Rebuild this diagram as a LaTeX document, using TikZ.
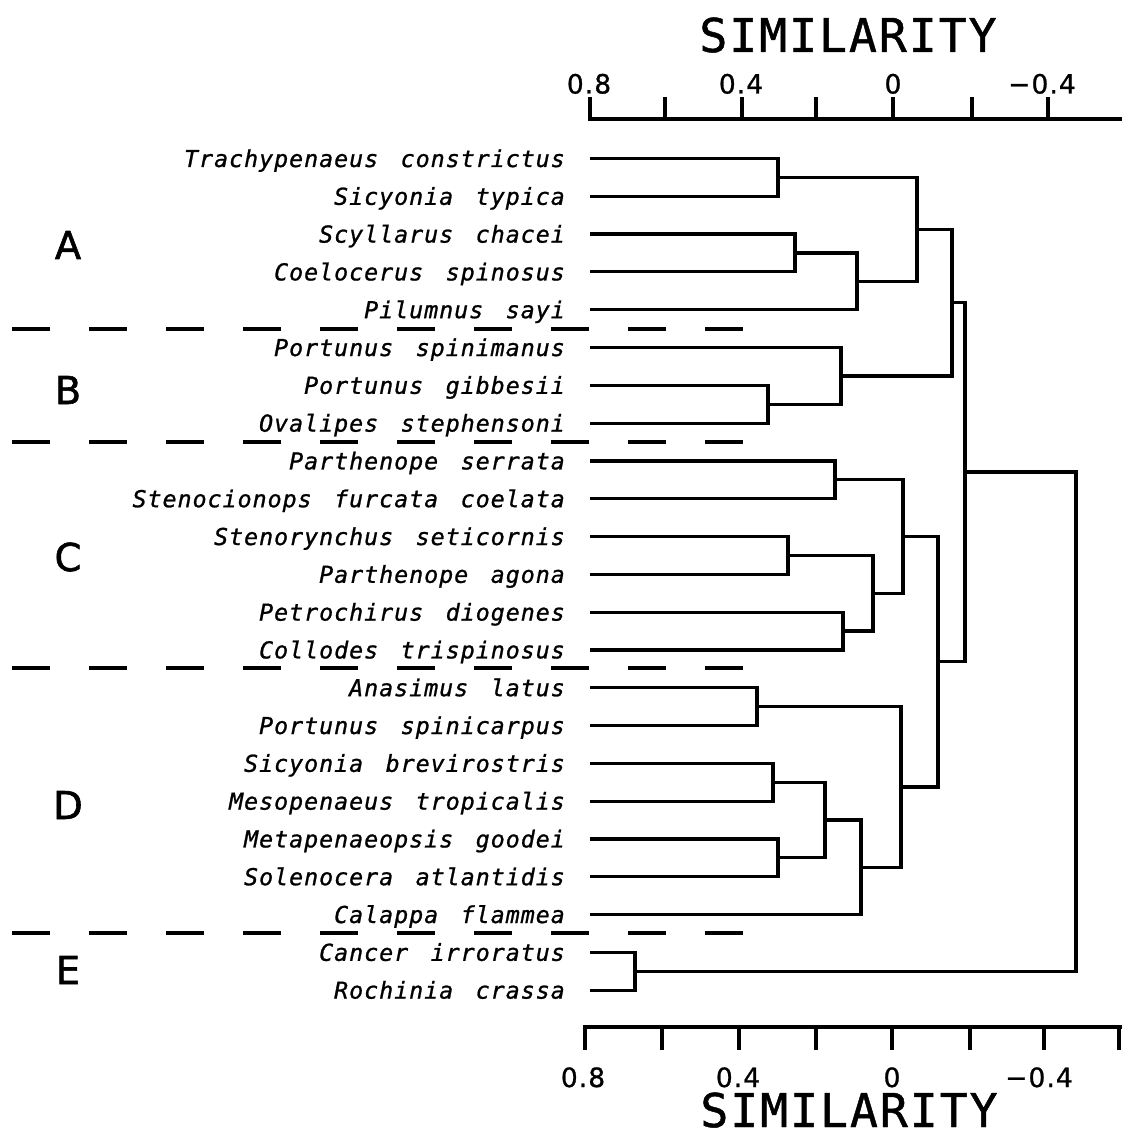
\documentclass[tikz,border=0pt]{standalone}
\usepackage{fontspec}
\setmainfont{DejaVu Sans}
\newfontfamily\taxonfont[LetterSpace=4.2,WordSpace=1.5,FakeBold=1]{DejaVu Sans Mono}
\newfontfamily\simfont[LetterSpace=4,FakeBold=1]{DejaVu Sans Mono}
\newfontfamily\numfont[LetterSpace=4,FakeBold=1]{DejaVu Sans}
\newfontfamily\groupfont[FakeBold=1.5]{DejaVu Sans}

\tikzset{
	branch/.style={line width=3.2pt},
	divider/.style={line width=3.2pt,dash pattern=on 38pt off 39pt},
	taxon/.style={left=25pt,inner sep=0pt,text height=17pt,text depth=0pt,font=\taxonfont\itshape\fontsize{23.3}{24}\selectfont},
	grouplab/.style={inner sep=0pt,text height=28pt,text depth=0pt,font=\groupfont\fontsize{38.4}{40}\selectfont},
	numlab/.style={inner sep=0pt,text height=19pt,text depth=0pt,font=\numfont\fontsize{26.5}{28}\selectfont},
	simlab/.style={inner sep=0pt,text height=34pt,text depth=0pt,font=\simfont\fontsize{46.6}{48}\selectfont},
}

\begin{document}
\begin{tikzpicture}[x=1pt,y=-1pt]
	\useasboundingbox (0,0) rectangle (1122,1139);
	% top axis
	\draw[branch] (590,97) -- (590,119) -- (1122,119);
	\draw[branch] (665,97) -- (665,119) (742,97) -- (742,119) (816,97) -- (816,119)
		(893,97) -- (893,119) (972,97) -- (972,119) (1048,97) -- (1048,119);
	\node[numlab] (ta) at (589,84) {0.8};
	\node[numlab] (tb) at (741,84) {0.4};
	\node[numlab] (tc) at (893,84) {0};
	\node[numlab] (td) at (1042,84) {−0.4};
	\node[simlab] (stop) at (848,35) {SIMILARITY};
	% bottom axis
	\draw[branch] (585,1050) -- (585,1027) -- (1122,1027);
	\draw[branch] (662,1050) -- (662,1027) (739,1050) -- (739,1027) (816,1050) -- (816,1027)
		(892,1050) -- (892,1027) (970,1050) -- (970,1027) (1044,1050) -- (1044,1027) (1119,1050) -- (1119,1027);
	\node[numlab] (ba) at (583,1077.5) {0.8};
	\node[numlab] (bb) at (738,1077.5) {0.4};
	\node[numlab] (bc) at (892,1077.5) {0};
	\node[numlab] (bd) at (1039,1077.5) {−0.4};
	\node[simlab] (sbot) at (849,1110) {SIMILARITY};

	% group dividers
	\draw[divider] (12,329) -- (743,329);
	\draw[divider] (12,442) -- (743,442);
	\draw[divider] (12,668) -- (743,668);
	\draw[divider] (12,933) -- (743,933);
	\node[grouplab] (ga) at (68,245) {A};
	\node[grouplab] (gb) at (68,390) {B};
	\node[grouplab] (gc) at (68,557) {C};
	\node[grouplab] (gd) at (68,805) {D};
	\node[grouplab] (ge) at (68,970) {E};

	% leaves
	\coordinate (s1) at (590,158.5);
	\coordinate (s2) at (590,196.3);
	\coordinate (s3) at (590,234.1);
	\coordinate (s4) at (590,271.9);
	\coordinate (s5) at (590,309.7);
	\coordinate (s6) at (590,347.5);
	\coordinate (s7) at (590,385.3);
	\coordinate (s8) at (590,423.1);
	\coordinate (s9) at (590,460.9);
	\coordinate (s10) at (590,498.7);
	\coordinate (s11) at (590,536.5);
	\coordinate (s12) at (590,574.3);
	\coordinate (s13) at (590,612.1);
	\coordinate (s14) at (590,649.9);
	\coordinate (s15) at (590,687.7);
	\coordinate (s16) at (590,725.5);
	\coordinate (s17) at (590,763.3);
	\coordinate (s18) at (590,801.1);
	\coordinate (s19) at (590,838.9);
	\coordinate (s20) at (590,876.7);
	\coordinate (s21) at (590,914.5);
	\coordinate (s22) at (590,952.3);
	\coordinate (s23) at (590,990.1);
	\node[taxon] (n1) at (s1) {Trachypenaeus constrictus};
	\node[taxon] (n2) at (s2) {Sicyonia typica};
	\node[taxon] (n3) at (s3) {Scyllarus chacei};
	\node[taxon] (n4) at (s4) {Coelocerus spinosus};
	\node[taxon] (n5) at (s5) {Pilumnus sayi};
	\node[taxon] (n6) at (s6) {Portunus spinimanus};
	\node[taxon] (n7) at (s7) {Portunus gibbesii};
	\node[taxon] (n8) at (s8) {Ovalipes stephensoni};
	\node[taxon] (n9) at (s9) {Parthenope serrata};
	\node[taxon] (n10) at (s10) {Stenocionops furcata coelata};
	\node[taxon] (n11) at (s11) {Stenorynchus seticornis};
	\node[taxon] (n12) at (s12) {Parthenope agona};
	\node[taxon] (n13) at (s13) {Petrochirus diogenes};
	\node[taxon] (n14) at (s14) {Collodes trispinosus};
	\node[taxon] (n15) at (s15) {Anasimus latus};
	\node[taxon] (n16) at (s16) {Portunus spinicarpus};
	\node[taxon] (n17) at (s17) {Sicyonia brevirostris};
	\node[taxon] (n18) at (s18) {Mesopenaeus tropicalis};
	\node[taxon] (n19) at (s19) {Metapenaeopsis goodei};
	\node[taxon] (n20) at (s20) {Solenocera atlantidis};
	\node[taxon] (n21) at (s21) {Calappa flammea};
	\node[taxon] (n22) at (s22) {Cancer irroratus};
	\node[taxon] (n23) at (s23) {Rochinia crassa};

	% joins
	\coordinate (m1) at (778,177.4);
	\coordinate (m2) at (795,253);
	\coordinate (m3) at (857,281.4);
	\coordinate (m4) at (917,229.4);
	\coordinate (m5) at (768,404.2);
	\coordinate (m6) at (841,375.9);
	\coordinate (m7) at (952,302.6);
	\coordinate (m8) at (835,479.8);
	\coordinate (m9) at (788,555.4);
	\coordinate (m10) at (843,631);
	\coordinate (m11) at (873,593.2);
	\coordinate (m12) at (903,536.5);
	\coordinate (m13) at (757,706.6);
	\coordinate (m14) at (773,782.2);
	\coordinate (m15) at (778,857.8);
	\coordinate (m16) at (825,820);
	\coordinate (m17) at (861,867.3);
	\coordinate (m18) at (901,787);
	\coordinate (m19) at (938,661.7);
	\coordinate (m20) at (965,472);
	\coordinate (m21) at (635,971.2);
	\coordinate (m22) at (1076,721.6);
	\draw[branch] (s1) -| (m1) |- (s2);
	\draw[branch] (s3) -| (m2) |- (s4);
	\draw[branch] (m2) -| (m3) |- (s5);
	\draw[branch] (m1) -| (m4) |- (m3);
	\draw[branch] (s7) -| (m5) |- (s8);
	\draw[branch] (s6) -| (m6) |- (m5);
	\draw[branch] (m4) -| (m7) |- (m6);
	\draw[branch] (s9) -| (m8) |- (s10);
	\draw[branch] (s11) -| (m9) |- (s12);
	\draw[branch] (s13) -| (m10) |- (s14);
	\draw[branch] (m9) -| (m11) |- (m10);
	\draw[branch] (m8) -| (m12) |- (m11);
	\draw[branch] (s15) -| (m13) |- (s16);
	\draw[branch] (s17) -| (m14) |- (s18);
	\draw[branch] (s19) -| (m15) |- (s20);
	\draw[branch] (m14) -| (m16) |- (m15);
	\draw[branch] (m16) -| (m17) |- (s21);
	\draw[branch] (m13) -| (m18) |- (m17);
	\draw[branch] (m12) -| (m19) |- (m18);
	\draw[branch] (m7) -| (m20) |- (m19);
	\draw[branch] (s22) -| (m21) |- (s23);
	\draw[branch] (m20) -| (m22) |- (m21);
\end{tikzpicture}
\end{document}
